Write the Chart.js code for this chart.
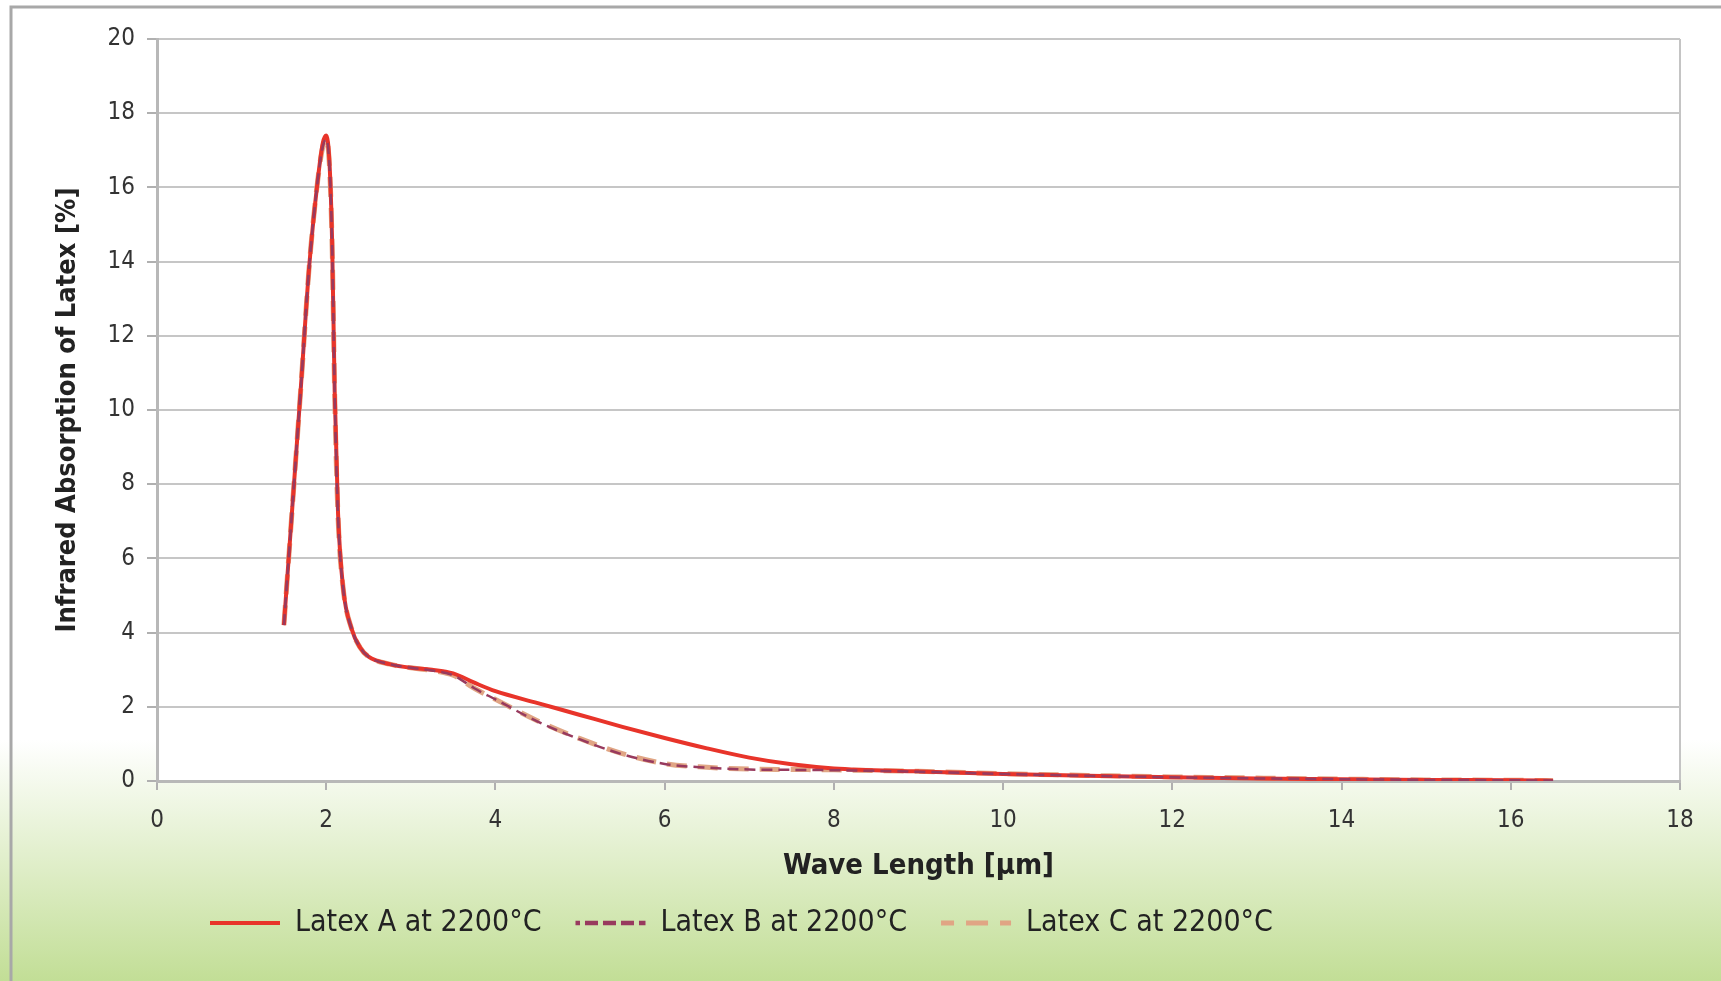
<!DOCTYPE html>
<html>
<head>
<meta charset="utf-8">
<title>Infrared Absorption of Latex</title>
<script src="https://cdn.jsdelivr.net/npm/chart.js@4"></script>
<style>
  html, body { margin: 0; padding: 0; background: #fff; }
  canvas { display: block; }
</style>
</head>
<body>
<canvas id="irChart" width="1721" height="981"></canvas>
<script>
// wave lengths in µm, absorption in %
const waveA = [1.5, 1.6, 1.7, 1.8, 1.9, 1.96, 2.0, 2.04, 2.07, 2.1, 2.14, 2.2, 2.3, 2.4, 2.5, 2.75, 3.0, 3.25, 3.5,
  3.75, 4.0, 4.5, 5.0, 5.5, 6.0, 6.5, 7.0, 7.5, 8.0, 9.0, 10.0, 11.0, 12.0, 13.0, 14.0, 15.0, 16.0, 16.5];
const absA = [4.2, 7.4, 10.6, 13.9, 16.2, 17.2, 17.4, 16.6, 14.5, 10.5, 7.2, 5.2, 4.1, 3.6, 3.35, 3.15, 3.05, 3.0, 2.9,
  2.65, 2.42, 2.1, 1.78, 1.46, 1.16, 0.88, 0.63, 0.45, 0.34, 0.26, 0.19, 0.14, 0.1, 0.07, 0.05, 0.03, 0.02, 0.01];

const waveB = [1.5, 1.6, 1.7, 1.8, 1.9, 1.96, 2.0, 2.04, 2.07, 2.1, 2.14, 2.2, 2.3, 2.4, 2.5, 2.75, 3.0, 3.25, 3.5,
  3.75, 4.0, 4.5, 5.0, 5.5, 6.0, 6.5, 7.0, 7.5, 8.0, 9.0, 10.0, 11.0, 12.0, 13.0, 14.0, 15.0, 16.0, 16.5];
const absB = [4.2, 7.4, 10.6, 13.9, 16.2, 17.1, 17.3, 16.5, 14.4, 10.4, 7.1, 5.2, 4.1, 3.6, 3.35, 3.15, 3.05, 2.98, 2.85,
  2.5, 2.2, 1.6, 1.12, 0.72, 0.46, 0.36, 0.31, 0.3, 0.29, 0.25, 0.19, 0.14, 0.1, 0.07, 0.05, 0.03, 0.02, 0.01];
const absC = [4.2, 7.4, 10.6, 13.9, 16.2, 17.1, 17.3, 16.5, 14.4, 10.4, 7.1, 5.2, 4.1, 3.6, 3.35, 3.15, 3.05, 2.98, 2.85,
  2.5, 2.2, 1.62, 1.14, 0.74, 0.47, 0.37, 0.32, 0.31, 0.3, 0.26, 0.2, 0.15, 0.11, 0.08, 0.05, 0.03, 0.02, 0.01];

const seriesNames = ['Latex A at 2200°C', 'Latex B at 2200°C', 'Latex C at 2200°C'];
const xTicks = [0, 2, 4, 6, 8, 10, 12, 14, 16, 18];
const yTicks = [0, 2, 4, 6, 8, 10, 12, 14, 16, 18, 20];

// legend swatches: the box is a zero-height rect, so the stroke runs out and back;
// the offset makes the return trip land on the same dashes
const legendWidths = [4, 4.5, 5];
const legendDash = [[], [13, 5], [22, 12]];
const legendDashOffset = [0, 8.5, 9];

const toPoints = (xs, ys) => xs.map((x, i) => ({ x, y: ys[i] }));

const FONT = "'DejaVu Sans Condensed', 'DejaVu Sans', sans-serif";

// white panel with grey frame, fading to green at the bottom
const backdrop = {
  id: 'backdrop',
  beforeDraw(chart) {
    const { ctx, width, height, chartArea } = chart;
    ctx.save();
    const g = ctx.createLinearGradient(0, 740, 0, height);
    g.addColorStop(0, '#ffffff');
    g.addColorStop(1, '#c2de96');
    ctx.fillStyle = '#ffffff';
    ctx.fillRect(0, 0, width, height);
    ctx.fillStyle = g;
    ctx.fillRect(0, 740, width, height - 740);
    ctx.fillStyle = '#ffffff';
    ctx.fillRect(chartArea.left, chartArea.top, chartArea.width, chartArea.height);
    ctx.strokeStyle = '#a8a8a8';
    ctx.lineWidth = 3;
    ctx.beginPath();
    ctx.moveTo(11, height);
    ctx.lineTo(11, 7);
    ctx.lineTo(width, 7);
    ctx.stroke();
    ctx.restore();
  },
  afterLayout(chart) {
    // legend row sits left of centre, just below the axis title
    chart.legend.left = 176;
    chart.legend.top = 874;
  }
};

const ctx = document.getElementById('irChart').getContext('2d');
new Chart(ctx, {
  type: 'line',
  data: {
    datasets: [
      {
        label: seriesNames[0],
        data: toPoints(waveA, absA),
        borderColor: '#e8342a',
        backgroundColor: 'rgba(0,0,0,0)',
        borderWidth: 4,
        order: 1,
      },
      {
        label: seriesNames[1],
        data: toPoints(waveB, absB),
        borderColor: '#983a5e',
        backgroundColor: 'rgba(0,0,0,0)',
        borderWidth: 2.5,
        borderDash: [11, 6],
        order: 0,
      },
      {
        label: seriesNames[2],
        data: toPoints(waveB, absC),
        borderColor: '#e0a584',
        backgroundColor: 'rgba(0,0,0,0)',
        borderWidth: 5,
        borderDash: [20, 11],
        order: 2,
      },
    ],
  },
  options: {
    responsive: false,
    animation: false,
    devicePixelRatio: 1,
    layout: { padding: { left: 0, top: 39, right: 41, bottom: 20 } },
    elements: {
      point: { radius: 0, hoverRadius: 0 },
      line: { cubicInterpolationMode: 'monotone', fill: false },
    },
    plugins: {
      tooltip: { enabled: false },
      legend: {
        position: 'bottom',
        align: 'start',
        labels: {
          boxWidth: 70,
          boxHeight: 0,
          padding: 34,
          color: '#222',
          font: { family: FONT, size: 30 },
          sort: (a, b) => a.datasetIndex - b.datasetIndex,
          generateLabels: chart => Chart.defaults.plugins.legend.labels.generateLabels(chart)
            .map(item => ({
              ...item,
              lineWidth: legendWidths[item.datasetIndex],
              lineDash: legendDash[item.datasetIndex],
              lineDashOffset: legendDashOffset[item.datasetIndex],
              lineCap: 'butt',
            })),
        },
      },
    },
    scales: {
      x: {
        type: 'linear',
        min: 0,
        max: 18,
        afterBuildTicks: s => { s.ticks = xTicks.map(v => ({ value: v })); },
        afterFit: s => { s.height = 106; },
        ticks: { color: '#333', padding: 16, font: { family: FONT, size: 24 } },
        grid: {
          drawOnChartArea: true,
          color: c => (c.tick && c.tick.value === 18 ? '#c4c4c4' : 'rgba(0,0,0,0)'),
          tickColor: '#b0b0b0',
          tickLength: 9,
          lineWidth: 2,
        },
        border: { color: '#b8b8b8', width: 3 },
        title: {
          display: true,
          text: 'Wave Length [µm]',
          color: '#222',
          padding: { top: 0, bottom: 3 },
          font: { family: FONT, size: 29, weight: 'bold' },
        },
      },
      y: {
        min: 0,
        max: 20,
        afterBuildTicks: s => { s.ticks = yTicks.map(v => ({ value: v })); },
        afterFit: s => { s.width = 157; },
        ticks: { color: '#333', padding: 12, font: { family: FONT, size: 24 } },
        grid: {
          color: '#c6c6c6',
          tickColor: '#b0b0b0',
          tickLength: 10,
          lineWidth: 2,
        },
        border: { color: '#b8b8b8', width: 3 },
        title: {
          display: true,
          text: 'Infrared Absorption of Latex [%]',
          color: '#222',
          padding: { top: 52, bottom: 0 },
          font: { family: FONT, size: 27, weight: 'bold' },
        },
      },
    },
  },
  plugins: [backdrop],
});
</script>
</body>
</html>
